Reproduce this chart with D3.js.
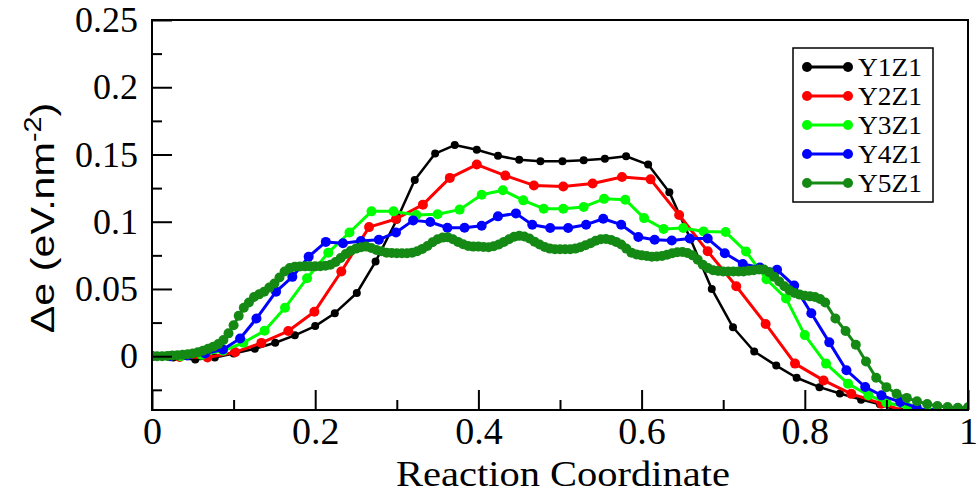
<!DOCTYPE html>
<html>
<head>
<meta charset="utf-8">
<script src="https://cdn.jsdelivr.net/npm/d3@7"></script>
<style>
  body { margin: 0; background: #fff; }
  .serif { font-family: "Liberation Serif", "Times New Roman", serif; }
  .sans { font-family: "Liberation Sans", Arial, sans-serif; }
</style>
</head>
<body>
<svg id="chart"></svg>
<script>
// series names + colours (xmgrace default palette)
const names = ["Y1Z1", "Y2Z1", "Y3Z1", "Y4Z1", "Y5Z1"];
const colors = ["#000000", "#ff0000", "#00ff00", "#0000ff", "#148a14"];

// values
const y1x = [0, 0.026, 0.053, 0.077, 0.1, 0.126, 0.151, 0.175, 0.2, 0.224, 0.251, 0.274, 0.3, 0.322, 0.347, 0.371, 0.398, 0.424, 0.45, 0.476, 0.503, 0.529, 0.555, 0.581, 0.608, 0.634, 0.66, 0.686, 0.712, 0.738, 0.765, 0.79, 0.818, 0.843, 0.869, 0.892, 0.917, 0.943, 0.969, 0.995];
const y1y = [0, -0.001, -0.0025, -0.001, 0.002, 0.0055, 0.01, 0.0155, 0.0224, 0.032, 0.047, 0.0704, 0.1015, 0.131, 0.1507, 0.157, 0.1535, 0.149, 0.146, 0.145, 0.145, 0.1457, 0.1468, 0.1487, 0.1425, 0.122, 0.087, 0.05, 0.0215, 0.0035, -0.007, -0.016, -0.023, -0.0277, -0.0323, -0.0358, -0.041, -0.045, -0.048, -0.05];

const y2x = [0, 0.034, 0.068, 0.102, 0.134, 0.167, 0.199, 0.232, 0.266, 0.299, 0.332, 0.365, 0.398, 0.433, 0.468, 0.504, 0.54, 0.576, 0.611, 0.646, 0.681, 0.716, 0.752, 0.788, 0.823, 0.857, 0.894, 0.929, 0.964, 1];
const y2y = [0, -0.0005, -0.001, 0.003, 0.0099, 0.0187, 0.033, 0.063, 0.096, 0.102, 0.1127, 0.1326, 0.1425, 0.1343, 0.127, 0.1262, 0.1284, 0.1333, 0.1315, 0.105, 0.078, 0.052, 0.024, -0.0055, -0.018, -0.028, -0.0353, -0.042, -0.047, -0.05];

const y3x = [0, 0.035, 0.061, 0.087, 0.112, 0.138, 0.163, 0.19, 0.216, 0.242, 0.269, 0.296, 0.324, 0.35, 0.377, 0.404, 0.43, 0.455, 0.48, 0.504, 0.529, 0.554, 0.58, 0.603, 0.627, 0.651, 0.676, 0.703, 0.728, 0.753, 0.777, 0.8, 0.826, 0.853, 0.878, 0.9, 0.926, 0.951, 0.977, 1];
const y3y = [0, 0, 0.001, 0.004, 0.01, 0.019, 0.036, 0.058, 0.077, 0.092, 0.1077, 0.1077, 0.105, 0.1055, 0.109, 0.12, 0.1234, 0.1159, 0.1097, 0.1097, 0.111, 0.117, 0.1164, 0.1027, 0.0946, 0.0953, 0.0928, 0.0923, 0.0778, 0.0572, 0.043, 0.0157, -0.0055, -0.0204, -0.029, -0.0346, -0.0378, -0.041, -0.044, -0.046];

const y4x = [0, 0.022, 0.043, 0.065, 0.087, 0.108, 0.128, 0.152, 0.172, 0.192, 0.213, 0.234, 0.256, 0.278, 0.299, 0.32, 0.341, 0.362, 0.383, 0.404, 0.424, 0.446, 0.466, 0.488, 0.51, 0.532, 0.553, 0.575, 0.596, 0.616, 0.637, 0.659, 0.681, 0.702, 0.724, 0.745, 0.766, 0.787, 0.808, 0.83, 0.851, 0.874, 0.894, 0.917, 0.937, 0.958, 0.98, 1];
const y4y = [0, 0, 0.0005, 0.002, 0.005, 0.0132, 0.028, 0.048, 0.059, 0.074, 0.085, 0.084, 0.0856, 0.0866, 0.092, 0.101, 0.0998, 0.0955, 0.0955, 0.097, 0.104, 0.1062, 0.0978, 0.0953, 0.0953, 0.0978, 0.1022, 0.0978, 0.0886, 0.0866, 0.086, 0.0875, 0.0875, 0.0766, 0.0685, 0.066, 0.0642, 0.0525, 0.0319, 0.0103, -0.0104, -0.0229, -0.0291, -0.0341, -0.038, -0.042, -0.045, -0.047];

// Y5Z1 is sampled densely (reads as a solid band up to ~0.82)
const y5x = [0, 0.00625, 0.0125, 0.01875, 0.025, 0.03125, 0.0375, 0.04375, 0.05, 0.05625, 0.0625, 0.06875, 0.075, 0.08125, 0.0875, 0.09375, 0.1, 0.10625, 0.1125, 0.11875, 0.125, 0.13125, 0.1375, 0.14375, 0.15, 0.15625, 0.1625, 0.16875, 0.175, 0.18125, 0.1875, 0.19375, 0.2, 0.20625, 0.2125, 0.21875, 0.225, 0.23125, 0.2375, 0.24375, 0.25, 0.25625, 0.2625, 0.26875, 0.275, 0.28125, 0.2875, 0.29375, 0.3, 0.30625, 0.3125, 0.31875, 0.325, 0.33125, 0.3375, 0.34375, 0.35, 0.35625, 0.3625, 0.36875, 0.375, 0.38125, 0.3875, 0.39375, 0.4, 0.40625, 0.4125, 0.41875, 0.425, 0.43125, 0.4375, 0.44375, 0.45, 0.45625, 0.4625, 0.46875, 0.475, 0.48125, 0.4875, 0.49375, 0.5, 0.50625, 0.5125, 0.51875, 0.525, 0.53125, 0.5375, 0.54375, 0.55, 0.55625, 0.5625, 0.56875, 0.575, 0.58125, 0.5875, 0.59375, 0.6, 0.60625, 0.6125, 0.61875, 0.625, 0.63125, 0.6375, 0.64375, 0.65, 0.65625, 0.6625, 0.66875, 0.675, 0.68125, 0.6875, 0.69375, 0.7, 0.70625, 0.7125, 0.71875, 0.725, 0.73125, 0.7375, 0.74375, 0.75, 0.75625, 0.7625, 0.76875, 0.775, 0.78125, 0.7875, 0.79375, 0.8, 0.80625, 0.8125, 0.81875, 0.825, 0.8375, 0.85, 0.8625, 0.875, 0.8875, 0.9, 0.9125, 0.925, 0.9375, 0.95, 0.9625, 0.975, 0.9875, 1];
const y5y = [0, 0, 0, 0.0002, 0.0005, 0.0007, 0.001, 0.0015, 0.002, 0.003, 0.004, 0.0055, 0.007, 0.009, 0.012, 0.017, 0.023, 0.03, 0.036, 0.04, 0.044, 0.046, 0.048, 0.051, 0.054, 0.0585, 0.063, 0.0655, 0.0665, 0.0667, 0.0668, 0.0668, 0.0668, 0.0669, 0.0672, 0.068, 0.07, 0.073, 0.076, 0.0785, 0.08, 0.081, 0.0815, 0.0805, 0.079, 0.078, 0.077, 0.0767, 0.0765, 0.0765, 0.0765, 0.077, 0.078, 0.0798, 0.082, 0.0848, 0.087, 0.0882, 0.0885, 0.087, 0.085, 0.0833, 0.082, 0.0815, 0.0815, 0.0812, 0.081, 0.0818, 0.083, 0.085, 0.087, 0.0888, 0.0895, 0.089, 0.0875, 0.0852, 0.083, 0.0812, 0.08, 0.0796, 0.0795, 0.0795, 0.0795, 0.08, 0.081, 0.0825, 0.084, 0.0858, 0.087, 0.0872, 0.0865, 0.085, 0.083, 0.08, 0.077, 0.0757, 0.075, 0.0745, 0.074, 0.0741, 0.0745, 0.0755, 0.0765, 0.0773, 0.0775, 0.0768, 0.075, 0.0718, 0.068, 0.0655, 0.064, 0.0633, 0.063, 0.063, 0.063, 0.063, 0.063, 0.0635, 0.064, 0.0645, 0.0645, 0.0625, 0.059, 0.0555, 0.052, 0.049, 0.047, 0.0458, 0.045, 0.0445, 0.044, 0.0425, 0.04, 0.028, 0.0188, 0.0085, -0.004, -0.016, -0.023, -0.028, -0.031, -0.0335, -0.0355, -0.037, -0.0378, -0.0383, -0.038];

const xTicks = [0, 0.2, 0.4, 0.6, 0.8, 1];
const xMinor = [0.1, 0.3, 0.5, 0.7, 0.9];
const yTicks = [0, 0.05, 0.1, 0.15, 0.2, 0.25];
const yMinor = [-0.025, 0.025, 0.075, 0.125, 0.175, 0.225];

const width = 977, height = 497;
const margin = {top: 20, right: 9, bottom: 87, left: 152};

const svg = d3.select("#chart")
  .attr("width", width)
  .attr("height", height);

const x = d3.scaleLinear()
  .domain([0, 1])
  .range([margin.left, width - margin.right]);

const y = d3.scaleLinear()
  .domain([-0.04, 0.25])
  .range([height - margin.bottom, margin.top]);

const sets = [[y1x, y1y], [y2x, y2y], [y3x, y3y], [y4x, y4y], [y5x, y5y]]
  .map(([xs, ys]) => xs.map((v, i) => [v, ys[i]]));
const radius = [4, 5, 5, 5, 5];
const lw = [2.5, 3, 3, 3, 3];

svg.append("clipPath")
  .attr("id", "plot")
  .append("rect")
  .attr("x", x(0))
  .attr("y", y(0.25))
  .attr("width", x(1) - x(0))
  .attr("height", y(-0.04) - y(0.25));

const line = d3.line()
  .x(d => x(d[0]))
  .y(d => y(d[1]));

const plot = svg.append("g").attr("clip-path", "url(#plot)");

sets.forEach((pts, i) => {
  const g = plot.append("g");
  g.append("path")
    .datum(pts)
    .attr("fill", "none")
    .attr("stroke", colors[i])
    .attr("stroke-width", lw[i])
    .attr("stroke-linejoin", "round")
    .attr("d", line);
  g.selectAll("circle")
    .data(pts)
    .enter()
    .append("circle")
    .attr("cx", d => x(d[0]))
    .attr("cy", d => y(d[1]))
    .attr("r", radius[i])
    .attr("fill", colors[i]);
});

// axes, ticks pointing inward
const xAxis = g => g
  .attr("transform", `translate(0,${y(-0.04)})`)
  .call(d3.axisBottom(x).tickValues(xTicks).tickSize(-20).tickPadding(7).tickFormat(d => String(d)))
  .call(g => g.select(".domain").remove());

const xAxisMinor = g => g
  .attr("transform", `translate(0,${y(-0.04)})`)
  .call(d3.axisBottom(x).tickValues(xMinor).tickSize(-10).tickFormat(""))
  .call(g => g.select(".domain").remove());

const yAxis = g => g
  .attr("transform", `translate(${x(0)},0)`)
  .call(d3.axisLeft(y).tickValues(yTicks).tickSize(-20).tickPadding(14).tickFormat(d => String(d)))
  .call(g => g.select(".domain").remove());

const yAxisMinor = g => g
  .attr("transform", `translate(${x(0)},0)`)
  .call(d3.axisLeft(y).tickValues(yMinor).tickSize(-10).tickFormat(""))
  .call(g => g.select(".domain").remove());

const gx = svg.append("g").call(xAxis);
gx.selectAll("text").attr("class", "serif").style("font-size", "38px");
svg.append("g").call(xAxisMinor);
const gy = svg.append("g").call(yAxis);
gy.selectAll("text").attr("class", "serif").style("font-size", "36px");
svg.append("g").call(yAxisMinor);

svg.selectAll(".tick line").attr("stroke", "#000").attr("stroke-width", 2);
svg.selectAll(".tick text").attr("fill", "#000");

// frame
svg.append("rect")
  .attr("x", x(0))
  .attr("y", y(0.25))
  .attr("width", x(1) - x(0))
  .attr("height", y(-0.04) - y(0.25))
  .attr("fill", "none")
  .attr("stroke", "#000")
  .attr("stroke-width", 2);

// axis titles
svg.append("text")
  .attr("class", "serif")
  .attr("x", (x(0) + x(1)) / 2 + 3)
  .attr("y", 486)
  .attr("text-anchor", "middle")
  .style("font-size", "36px")
  .attr("textLength", 334)
  .attr("lengthAdjust", "spacingAndGlyphs")
  .text("Reaction Coordinate");

const ylab = svg.append("text")
  .attr("class", "sans")
  .attr("transform", "translate(54,218) rotate(-90) scale(1.25,1)")
  .attr("text-anchor", "middle")
  .style("font-size", "33px");
ylab.append("tspan").text("Δe (eV.nm");
ylab.append("tspan").attr("dy", -13).style("font-size", "23px").text("-2");
ylab.append("tspan").attr("dy", 13).text(")");

// legend
const legend = svg.append("g");
legend.append("rect")
  .attr("x", 793)
  .attr("y", 48)
  .attr("width", 140)
  .attr("height", 154)
  .attr("fill", "#fff")
  .attr("stroke", "#000")
  .attr("stroke-width", 1.5);

const item = legend.selectAll("g.item")
  .data(names)
  .enter().append("g")
  .attr("class", "item")
  .attr("transform", (d, i) => `translate(0,${67 + i * 29})`);

item.append("line")
  .attr("x1", 807).attr("x2", 848)
  .attr("stroke", (d, i) => colors[i])
  .attr("stroke-width", 3);
item.append("circle").attr("cx", 807).attr("r", 5).attr("fill", (d, i) => colors[i]);
item.append("circle").attr("cx", 848).attr("r", 5).attr("fill", (d, i) => colors[i]);
item.append("text")
  .attr("class", "serif")
  .attr("x", 858)
  .attr("dy", "0.33em")
  .style("font-size", "26px")
  .attr("textLength", 64)
  .attr("lengthAdjust", "spacingAndGlyphs")
  .text(d => d);
</script>
</body>
</html>
